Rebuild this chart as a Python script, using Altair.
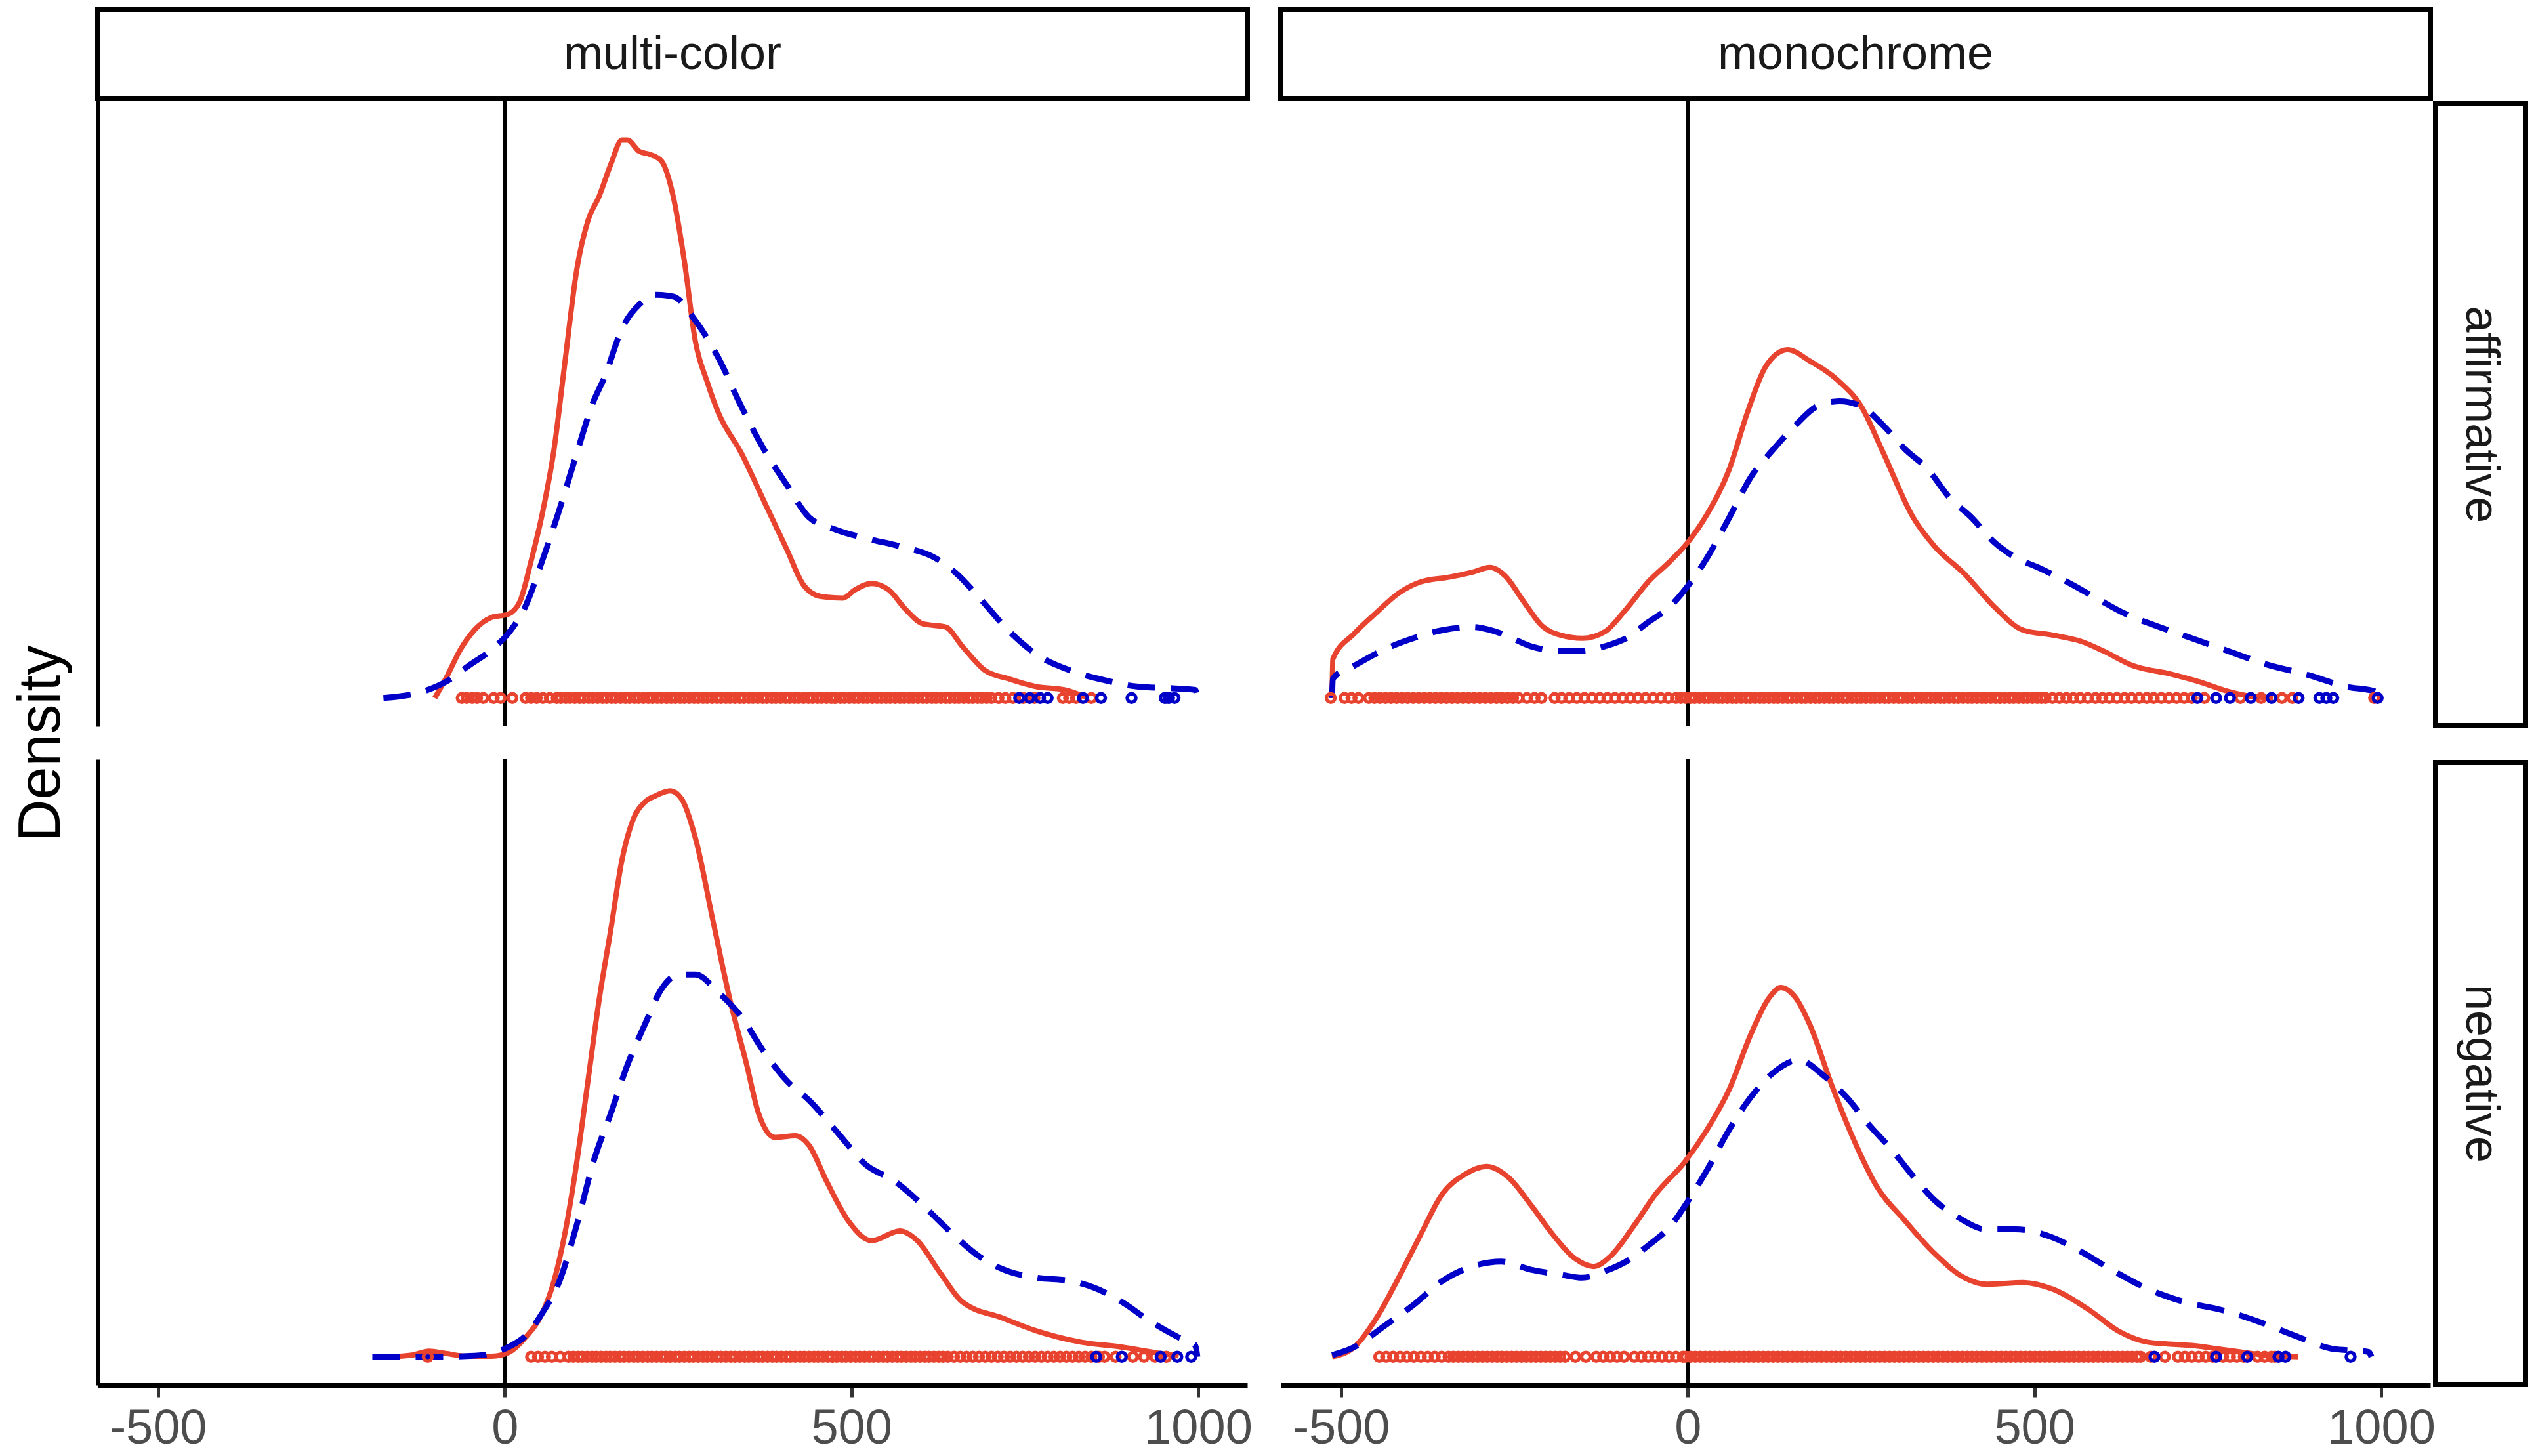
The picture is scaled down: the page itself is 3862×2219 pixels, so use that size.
import altair as alt
import pandas as pd

RED = "#E8432F"
BLUE = "#0000C8"
FONT = "Liberation Sans"

X_DOMAIN = [-587, 1071]
Y_DOMAIN = [-0.000176, 0.003706]
TICKS = [-500, 0, 500, 1000]

COLS = ["multi-color", "monochrome"]
ROWS = ["affirmative", "negative"]

# ---- density curves: x (ms) and density x 1e5 ----
# multi-color / affirmative
tl_red_x = [-101, -85, -64, -44, -19, 5, 22, 38, 54, 71, 87, 104, 120, 136, 153, 169, 177, 194, 210, 226, 243, 259,
            275, 292, 308, 341, 374, 407, 431, 456, 488, 505, 529, 554, 578, 603, 636, 660, 693, 726, 767, 808, 841]
tl_red_d = [0, 12, 30, 42, 50, 52, 60, 85, 114, 154, 209, 266, 296, 311, 331, 346, 346, 339, 337, 333, 311, 271,
            221, 196, 177, 152, 122, 92, 70, 63, 62, 67, 71, 67, 55, 46, 44, 32, 17, 12, 7, 5, 0]
tl_blue_x = [-175, -118, -85, -52, -19, 5, 30, 54, 79, 104, 128, 144, 169, 194, 218, 243, 275, 308, 341, 374, 407,
             439, 480, 521, 570, 620, 652, 685, 726, 767, 816, 865, 914, 963, 996, 999]
tl_blue_d = [0, 4, 10, 20, 30, 40, 57, 85, 117, 152, 184, 199, 229, 244, 250, 249, 234, 211, 181, 154, 132,
             112, 104, 99, 94, 87, 77, 62, 42, 27, 17, 11, 7, 6, 5, 0]

# monochrome / affirmative
tr_red_x = [-513, -512, -481, -449, -417, -385, -343, -311, -285, -264, -237, -211, -184, -152, -120, -89, -57, -25,
            1, 28, 60, 86, 113, 144, 176, 219, 250, 282, 325, 356, 399, 441, 484, 526, 568, 600, 642, 695, 738, 780,
            812, 844]
tr_red_d = [0, 24, 40, 53, 65, 72, 75, 78, 81, 76, 60, 45, 39, 37, 41, 55, 72, 85,
            97, 114, 142, 177, 206, 216, 209, 196, 181, 152, 112, 94, 77, 57, 42, 39, 35, 29, 20, 15, 10, 4,
            1, 0]
tr_blue_x = [-513, -512, -481, -438, -396, -354, -311, -269, -226, -184, -152, -120, -89, -57, -25, 1, 28, 60, 91,
             123, 155, 187, 219, 250, 282, 314, 346, 378, 409, 441, 473, 505, 547, 589, 632, 674, 727, 780, 833,
             897, 950, 992, 994]
tr_blue_d = [0, 12, 20, 30, 37, 42, 44, 40, 32, 29, 29, 32, 37, 47, 57, 70, 87, 112, 137,
             154, 169, 181, 184, 181, 169, 154, 142, 124, 112, 97, 87, 81, 72, 62, 52, 45, 37, 29, 21,
             14, 7, 4, 0]

# multi-color / negative
bl_red_x = [-167, -134, -109, -85, -52, -19, 5, 30, 54, 71, 87, 104, 120, 136, 153, 169, 185, 202, 218, 239, 255,
            276, 300, 325, 349, 366, 390, 419, 439, 464, 496, 529, 570, 595, 628, 660, 718, 767, 832, 890, 947, 972]
bl_red_d = [0, 1, 3.5, 2, 0.3, 0.3, 2.5, 12, 27, 47, 77, 121, 171, 221, 265, 308, 333, 344, 348, 351, 346,
            320, 271, 221, 181, 151, 136, 137, 131, 109, 84, 72, 78, 72, 52, 34, 24, 16, 9, 6, 2, 0.5]
bl_blue_x = [-191, -150, -100, -50, -19, 5, 30, 54, 79, 104, 128, 153, 177, 202, 226, 251, 275, 308, 341, 374, 407,
             439, 480, 521, 562, 603, 644, 685, 726, 767, 816, 849, 890, 931, 972, 996, 999]
bl_blue_d = [0, 0, 0, 0.5, 2, 6, 13, 27, 47, 82, 121, 151, 181, 206, 228, 237, 237, 226, 211, 189, 171,
             159, 139, 119, 109, 94, 77, 62, 53, 49, 47, 43, 34, 22, 12, 7, 0]

# monochrome / negative
br_red_x = [-513, -481, -449, -417, -385, -354, -322, -290, -258, -226, -195, -163, -136, -110, -78, -46, -4, 28, 60,
            91, 118, 134, 155, 176, 208, 240, 272, 314, 356, 399, 431, 484, 526, 579, 621, 664, 727, 780, 833, 880]
br_red_d = [0, 6, 24, 49, 76, 101, 113, 118, 111, 94, 76, 61, 56, 63, 81, 101, 121, 141, 166,
            200, 223, 229, 223, 206, 168, 134, 106, 84, 64, 49, 45, 46, 42, 29, 16, 9, 7, 4, 1, 0]
br_blue_x = [-513, -481, -438, -396, -354, -311, -269, -226, -184, -152, -120, -89, -57, -25, 1, 28, 60, 91, 123,
             160, 197, 229, 261, 293, 325, 356, 388, 431, 473, 526, 568, 611, 664, 716, 770, 822, 876, 929, 982, 986]
br_blue_d = [1, 6, 19, 32, 47, 56, 59, 54, 51, 49, 53, 59, 69, 81, 97, 116, 141, 161, 176,
             184, 174, 161, 144, 129, 112, 97, 87, 79, 79, 74, 65, 54, 42, 34, 29, 22, 13, 5, 3, 0]

# ---- observations drawn at density 0 ----
tl_red_obs = [-62, -55, -47, -40, -31, -16, -6, 11, 30, 38, 46, 55, 65, 75, 81, 88, 94, 101, 108, 114, 121, 127, 134,
              141, 147, 154, 160, 167, 174, 180, 187, 193, 200, 207, 213, 220, 226, 233, 240, 246, 253, 259, 266, 273,
              279, 286, 292, 299, 306, 312, 319, 325, 332, 339, 345, 352, 358, 365, 372, 378, 385, 391, 398, 405, 411,
              418, 424, 431, 438, 444, 451, 457, 464, 471, 477, 484, 490, 497, 504, 510, 517, 523, 530, 537, 543, 550,
              556, 563, 570, 576, 583, 589, 596, 603, 609, 616, 622, 629, 636, 642, 649, 655, 662, 669, 675, 682, 688,
              695, 702, 712, 722, 733, 748, 764, 805, 814, 824, 846]
tl_blue_obs = [742, 757, 772, 783, 834, 860, 904, 952, 958, 966]

tr_red_obs = [-515, -495, -485, -475, -460, -452, -444, -436, -428, -420, -412, -404, -396, -388, -380, -372, -364,
              -356, -348, -340, -332, -324, -316, -308, -300, -292, -284, -276, -268, -260, -252, -244, -232, -221,
              -211, -192, -182, -171, -160, -149, -138, -127, -116, -105, -94, -83, -72, -61, -50, -39, -28, -17, -10,
              -3, 4, 10, 17, 24, 30, 37, 44, 50, 57, 64, 70, 77, 84, 90, 97, 104, 110, 117, 124, 130, 137, 144, 150,
              157, 164, 170, 177, 184, 190, 197, 204, 210, 217, 224, 230, 237, 244, 250, 257, 264, 270, 277, 284, 290,
              297, 304, 310, 317, 324, 330, 337, 344, 350, 357, 364, 370, 377, 384, 390, 397, 404, 410, 417, 424, 430,
              437, 444, 450, 457, 464, 470, 477, 484, 490, 497, 504, 510, 516, 526, 536, 546, 556, 566, 577, 588, 598,
              608, 619, 630, 640, 651, 662, 672, 683, 694, 705, 716, 727, 745, 797, 827, 857, 872, 990]
tr_blue_obs = [735, 762, 782, 812, 842, 881, 911, 921, 931, 995]

bl_red_obs = [-111, 38, 48, 58, 68, 80, 92, 99, 106, 112, 119, 126, 132, 139, 146, 152, 159, 166, 172, 179, 186, 192,
              199, 206, 212, 219, 226, 232, 239, 246, 252, 259, 266, 272, 279, 286, 292, 299, 306, 312, 319, 326, 332,
              339, 346, 352, 359, 366, 372, 379, 386, 392, 399, 406, 412, 419, 426, 432, 439, 446, 452, 459, 466, 472,
              479, 486, 492, 499, 506, 512, 519, 526, 532, 539, 546, 552, 559, 566, 572, 579, 586, 592, 599, 606, 612,
              619, 626, 632, 639, 648, 657, 666, 675, 684, 693, 702, 711, 720, 729, 738, 747, 756, 765, 774, 783, 792,
              801, 810, 819, 828, 837, 846, 857, 865, 881, 906, 922, 938, 954]
bl_blue_obs = [853, 890, 946, 970, 990]

br_red_obs = [-445, -435, -425, -415, -405, -395, -385, -375, -365, -355, -345, -338, -331, -324, -317, -310, -303,
              -296, -289, -282, -275, -268, -261, -254, -247, -240, -233, -226, -219, -212, -205, -198, -191, -184,
              -177, -162, -147, -132, -122, -112, -102, -92, -77, -67, -57, -47, -37, -27, -17, -7, -3, 4, 11, 18, 25,
              32, 39, 46, 53, 60, 67, 74, 81, 88, 95, 102, 109, 116, 123, 130, 137, 144, 151, 158, 165, 172, 179, 186,
              193, 200, 207, 214, 221, 228, 235, 242, 249, 256, 263, 270, 277, 284, 291, 298, 305, 312, 319, 326, 333,
              340, 347, 354, 361, 368, 375, 382, 389, 396, 403, 410, 417, 424, 431, 438, 445, 452, 459, 466, 473, 480,
              487, 494, 501, 508, 515, 522, 529, 536, 543, 550, 557, 564, 571, 578, 585, 592, 599, 606, 613, 620, 627,
              634, 641, 648, 653, 668, 688, 707, 717, 727, 737, 747, 757, 772, 782, 792, 802, 822, 832, 842, 847]
br_blue_obs = [673, 762, 807, 852, 862, 956]

VLINE = [0]

PANEL_W = 1752
PANEL_H = 954
STRIP_TOP = -138   # column strip box, above the panel
STRIP_BOTTOM = -3
RSTRIP_L = PANEL_W + 8   # row strip box, right of the panel
RSTRIP_R = PANEL_W + 145
BOX_W = 8


def curve_df(xs, ds):
    return pd.DataFrame({"x": xs, "density": [d * 1e-5 for d in ds]})


def obs_df(xs):
    return pd.DataFrame({"x": xs, "density": [0.0] * len(xs)})


def col_strip(label):
    df = pd.DataFrame({"label": [label]})
    rect = alt.Chart(df).mark_rect(fill="white", stroke="black", strokeWidth=BOX_W).encode(
        x=alt.value(0), x2=alt.value(PANEL_W), y=alt.value(STRIP_TOP), y2=alt.value(STRIP_BOTTOM))
    txt = alt.Chart(df).mark_text(fontSize=72, font=FONT, color="#1A1A1A", baseline="middle",
                                  align="center").encode(
        x=alt.value(PANEL_W / 2), y=alt.value((STRIP_TOP + STRIP_BOTTOM) / 2), text="label:N")
    return [rect, txt]


def row_strip(label):
    df = pd.DataFrame({"label": [label]})
    rect = alt.Chart(df).mark_rect(fill="white", stroke="black", strokeWidth=BOX_W).encode(
        x=alt.value(RSTRIP_L), x2=alt.value(RSTRIP_R), y=alt.value(5), y2=alt.value(PANEL_H - 1))
    txt = alt.Chart(df).mark_text(fontSize=72, font=FONT, color="#1A1A1A", baseline="middle", align="center",
                                  angle=90).encode(
        x=alt.value((RSTRIP_L + RSTRIP_R) / 2), y=alt.value((PANEL_H + 4) / 2), text="label:N")
    return [rect, txt]


def panel(red_x, red_d, blue_x, blue_d, red_obs, blue_obs, show_x, show_y, y_title=None,
          col_label=None, row_label=None):
    if show_x:
        x_axis = alt.Axis(values=TICKS, labelExpr="'' + datum.value", grid=False, title=None,
                          domainColor="black", domainWidth=7, tickColor="#333333", tickWidth=5,
                          tickSize=18, labelFontSize=74, labelColor="#4D4D4D", labelFont=FONT,
                          labelPadding=12)
    else:
        x_axis = None
    if show_y:
        kw = dict(domain=True, ticks=False, labels=False, grid=False, domainColor="black", domainWidth=7)
        if y_title:
            kw.update(title=y_title, titleFontSize=90, titleFont=FONT, titleColor="black",
                      titleFontWeight="normal", titleAngle=270, titleX=-86, titleY=980,
                      titleAlign="center", titleBaseline="middle")
        else:
            kw.update(title=None)
        y_axis = alt.Axis(**kw)
    else:
        y_axis = None

    xenc = alt.X("x:Q", scale=alt.Scale(domain=X_DOMAIN, nice=False, zero=False), axis=x_axis)
    yenc = alt.Y("density:Q", scale=alt.Scale(domain=Y_DOMAIN, nice=False, zero=False), axis=y_axis)

    vline = alt.Chart(pd.DataFrame({"x": VLINE})).mark_rule(color="black", strokeWidth=6).encode(x=xenc)
    red_line = alt.Chart(curve_df(red_x, red_d)).mark_line(
        color=RED, strokeWidth=8, interpolate="monotone").encode(x=xenc, y=yenc)
    blue_line = alt.Chart(curve_df(blue_x, blue_d)).mark_line(
        color=BLUE, strokeWidth=9, strokeDash=[42, 24], interpolate="monotone").encode(x=xenc, y=yenc)
    red_pts = alt.Chart(obs_df(red_obs)).mark_point(
        shape="circle", filled=False, color=RED, size=169, strokeWidth=5.5, opacity=1).encode(x=xenc, y=yenc)
    blue_pts = alt.Chart(obs_df(blue_obs)).mark_point(
        shape="circle", filled=False, color=BLUE, size=169, strokeWidth=5.5, opacity=1).encode(x=xenc, y=yenc)
    layers = [vline, red_line, blue_line, red_pts, blue_pts]
    if col_label:
        layers += col_strip(col_label)
    if row_label:
        layers += row_strip(row_label)
    return alt.layer(*layers).properties(width=PANEL_W, height=PANEL_H)


tl = panel(tl_red_x, tl_red_d, tl_blue_x, tl_blue_d, tl_red_obs, tl_blue_obs, False, True, "Density",
           col_label=COLS[0])
tr = panel(tr_red_x, tr_red_d, tr_blue_x, tr_blue_d, tr_red_obs, tr_blue_obs, False, False,
           col_label=COLS[1], row_label=ROWS[0])
bl = panel(bl_red_x, bl_red_d, bl_blue_x, bl_blue_d, bl_red_obs, bl_blue_obs, True, True)
br = panel(br_red_x, br_red_d, br_blue_x, br_blue_d, br_red_obs, br_blue_obs, True, False,
           row_label=ROWS[1])

chart = alt.concat(tl, tr, bl, br, columns=2, spacing={"row": 50, "column": 51}, bounds="flush").properties(
    padding={"left": 10, "top": 3, "right": 0, "bottom": 0},
    background="white",
).configure_view(stroke=None)

chart.save("out.html", embed_options={"renderer": "svg", "actions": False})
